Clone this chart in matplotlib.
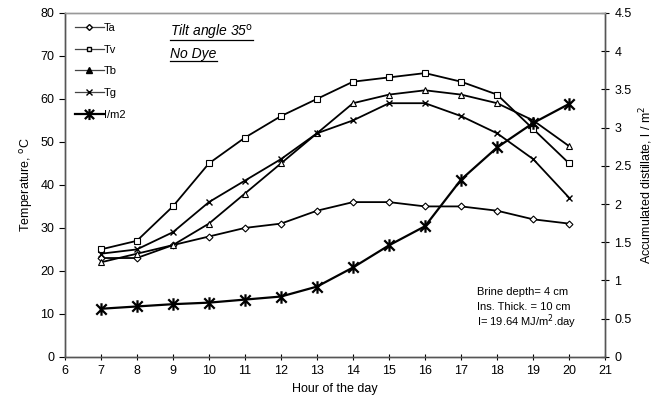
import numpy as np
import matplotlib.pyplot as plt
from matplotlib.lines import Line2D
from matplotlib.path import Path

plt.rcParams['font.family'] = ['Liberation Sans', 'DejaVu Sans']

hours = [7, 8, 9, 10, 11, 12, 13, 14, 15, 16, 17, 18, 19, 20]
Ta = [23, 23, 26, 28, 30, 31, 34, 36, 36, 35, 35, 34, 32, 31]
Tv = [25, 27, 35, 45, 51, 56, 60, 64, 65, 66, 64, 61, 53, 45]
Tb = [22, 24, 26, 31, 38, 45, 52, 59, 61, 62, 61, 59, 55, 49]
Tg = [24, 25, 29, 36, 41, 46, 52, 55, 59, 59, 56, 52, 46, 37]
distillate = [0.63, 0.66, 0.69, 0.71, 0.75, 0.79, 0.92, 1.17, 1.46, 1.71, 2.32, 2.74, 3.06, 3.31]

# excel-like star marker: x with a vertical bar
star = Path([(-1, -1), (1, 1), (-1, 1), (1, -1), (0, -1.2), (0, 1.2)],
            [Path.MOVETO, Path.LINETO, Path.MOVETO, Path.LINETO, Path.MOVETO, Path.LINETO])

fig = plt.figure(figsize=(6.68, 4.16), dpi=100)
ax = fig.add_axes([0.097, 0.142, 0.809, 0.827])
ax2 = ax.twinx()

k = 'black'
ax.plot(hours, Ta, color=k, lw=1.3, marker='D', ms=3.5, mfc='white', mec=k, mew=0.8)
ax.plot(hours, Tv, color=k, lw=1.3, marker='s', ms=4, mfc='white', mec=k, mew=0.8)
ax.plot(hours, Tb, color=k, lw=1.3, marker='^', ms=4.5, mfc='white', mec=k, mew=0.8)
ax.plot(hours, Tg, color=k, lw=1.3, marker='x', ms=5, mec=k, mew=1.0)
ax2.plot(hours, distillate, color=k, lw=1.6, marker=star, ms=9, mec=k, mew=1.6)

ax.set_xlim(6, 21)
ax.set_ylim(0, 80)
ax2.set_ylim(0, 4.5)
ax.set_xticks(range(6, 22))
ax.set_yticks(range(0, 81, 10))
ax2.set_yticks(np.arange(0, 4.51, 0.5))
ax2.set_yticklabels(['0', '0.5', '1', '1.5', '2', '2.5', '3', '3.5', '4', '4.5'])

ax.tick_params(axis='x', direction='inout', length=5, labelsize=9)
ax.tick_params(axis='y', direction='out', length=4, labelsize=9)
ax2.tick_params(axis='y', direction='inout', length=6, labelsize=9)

for a in (ax, ax2):
    for s in a.spines.values():
        s.set_color('#555555')
        s.set_linewidth(1.0)
ax.spines['top'].set_color('#999999')
ax2.spines['top'].set_color('#999999')

ax.set_xlabel('Hour of the day', fontsize=9)
ax.set_ylabel('Temperature, $^{\\mathrm{o}}$C', fontsize=9, labelpad=4)
ax2.set_ylabel('Accumulated distillate, l / m$^{2}$', fontsize=9, labelpad=4)

handles = [
    Line2D([], [], color='#444444', lw=0.9, marker='D', ms=3, mfc='white', mec=k),
    Line2D([], [], color='#444444', lw=0.9, marker='s', ms=3.5, mfc='white', mec=k),
    Line2D([], [], color='#444444', lw=0.9, marker='^', ms=4, mfc=k, mec=k),
    Line2D([], [], color='#444444', lw=0.9, marker='x', ms=4, mec=k),
    Line2D([], [], color=k, lw=1.6, marker=star, ms=8, mec=k, mew=1.6),
]
ax.legend(handles, ['Ta', 'Tv', 'Tb', 'Tg', 'I/m2'], loc='upper left', bbox_to_anchor=(0.0, 1.0),
          frameon=False, fontsize=8, handlelength=2.6, handletextpad=0.0,
          labelspacing=1.05, borderaxespad=0.5)

t1 = ax.text(0.195, 0.93, 'Tilt angle 35$^{\\mathrm{o}}$', transform=ax.transAxes, fontsize=10,
             style='italic', va='baseline')
t2 = ax.text(0.195, 0.87, 'No Dye', transform=ax.transAxes, fontsize=10, style='italic', va='baseline')

notes = ['Brine depth= 4 cm', 'Ins. Thick. = 10 cm', 'I= 19.64 MJ/m$^{2}$.day']
for i, line in enumerate(notes):
    ax.text(0.762, 0.19 - i * 0.044, line, transform=ax.transAxes, fontsize=8, va='center')

fig.canvas.draw()
r = fig.canvas.get_renderer()
inv = fig.transFigure.inverted()
for t in (t1, t2):
    bb = t.get_window_extent(r)
    base = ax.transAxes.transform(t.get_position())[1] - 3
    (x0, y0), (x1, _) = inv.transform([(bb.x0, base), (bb.x1, base)])
    fig.add_artist(Line2D([x0, x1], [y0, y0], color=k, lw=0.9, transform=fig.transFigure))

fig.savefig('out.png', dpi=100)
